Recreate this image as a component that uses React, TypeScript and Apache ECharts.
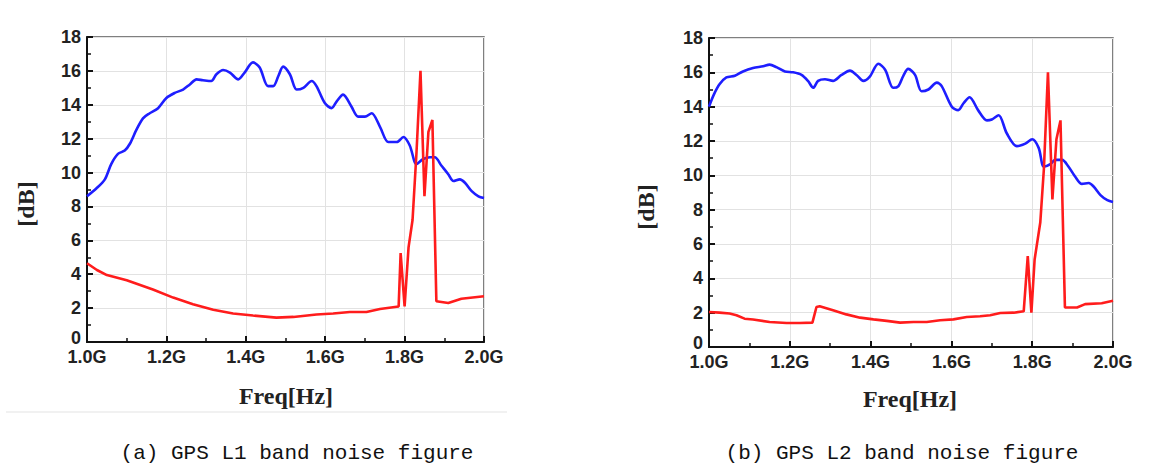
import React, { useEffect, useRef } from "react";
import * as echarts from "echarts";

// GPS L1 band
const l1NoiseFreq = [1.0, 1.024, 1.045, 1.061, 1.078, 1.095, 1.108, 1.124, 1.141, 1.158, 1.179, 1.2, 1.221, 1.242, 1.259, 1.276, 1.292, 1.313, 1.326, 1.343, 1.36, 1.381, 1.397, 1.418, 1.435, 1.456, 1.469, 1.482, 1.494, 1.511, 1.528, 1.545, 1.566, 1.578, 1.599, 1.616, 1.629, 1.645, 1.666, 1.683, 1.7, 1.717, 1.738, 1.759, 1.78, 1.797, 1.813, 1.83, 1.847, 1.864, 1.876, 1.893, 1.91, 1.923, 1.939, 1.952, 1.969, 1.986, 2.0];
const l1NoiseDb = [8.6, 9.07, 9.6, 10.5, 11.1, 11.3, 11.7, 12.5, 13.2, 13.5, 13.8, 14.4, 14.7, 14.9, 15.2, 15.5, 15.45, 15.4, 15.8, 16.05, 15.9, 15.5, 15.9, 16.5, 16.2, 15.1, 15.1, 15.7, 16.25, 15.8, 14.9, 15.0, 15.4, 15.1, 14.1, 13.8, 14.2, 14.6, 13.9, 13.3, 13.3, 13.5, 12.7, 11.8, 11.8, 12.1, 11.6, 10.5, 10.8, 10.9, 10.9, 10.4, 9.9, 9.5, 9.6, 9.4, 8.9, 8.6, 8.5];
const l1LowFreq = [1.0, 1.025, 1.05, 1.1, 1.166, 1.217, 1.267, 1.318, 1.368, 1.418, 1.477, 1.52, 1.578, 1.62, 1.662, 1.704, 1.738, 1.785, 1.79, 1.8, 1.81, 1.82, 1.83, 1.84, 1.85, 1.86, 1.87, 1.88, 1.91, 1.943, 2.0];
const l1LowDb = [4.65, 4.25, 3.95, 3.65, 3.1, 2.62, 2.23, 1.9, 1.68, 1.56, 1.44, 1.48, 1.62, 1.68, 1.77, 1.77, 1.95, 2.1, 5.25, 2.1, 5.6, 7.2, 11.2, 16.0, 8.6, 12.4, 13.1, 2.4, 2.3, 2.55, 2.7];

// GPS L2 band
const l2NoiseFreq = [1.0, 1.012, 1.026, 1.043, 1.064, 1.084, 1.109, 1.134, 1.15, 1.167, 1.188, 1.208, 1.229, 1.245, 1.258, 1.27, 1.287, 1.307, 1.328, 1.349, 1.365, 1.382, 1.398, 1.419, 1.436, 1.456, 1.469, 1.481, 1.493, 1.51, 1.526, 1.543, 1.564, 1.576, 1.601, 1.617, 1.63, 1.645, 1.666, 1.688, 1.7, 1.717, 1.737, 1.762, 1.783, 1.8, 1.816, 1.829, 1.845, 1.857, 1.874, 1.89, 1.907, 1.923, 1.94, 1.952, 1.969, 1.986, 2.0];
const l2NoiseDb = [14.0, 14.7, 15.3, 15.7, 15.8, 16.05, 16.25, 16.35, 16.45, 16.3, 16.05, 16.0, 15.85, 15.5, 15.1, 15.5, 15.6, 15.5, 15.85, 16.1, 15.85, 15.5, 15.75, 16.5, 16.15, 15.1, 15.2, 15.8, 16.2, 15.85, 14.9, 15.0, 15.4, 15.2, 14.0, 13.8, 14.2, 14.55, 13.8, 13.2, 13.25, 13.5, 12.45, 11.7, 11.85, 12.1, 11.6, 10.5, 10.65, 10.9, 10.9, 10.5, 9.9, 9.5, 9.55, 9.35, 8.85, 8.55, 8.45];
const l2LowFreq = [1.0, 1.026, 1.051, 1.068, 1.088, 1.109, 1.15, 1.192, 1.225, 1.256, 1.266, 1.274, 1.307, 1.34, 1.374, 1.407, 1.44, 1.473, 1.506, 1.539, 1.572, 1.605, 1.638, 1.671, 1.696, 1.721, 1.754, 1.779, 1.789, 1.798, 1.806, 1.82, 1.829, 1.839, 1.85, 1.86, 1.87, 1.881, 1.911, 1.931, 1.972, 2.0];
const l2LowDb = [2.04, 2.0, 1.95, 1.85, 1.65, 1.6, 1.46, 1.4, 1.4, 1.42, 2.33, 2.37, 2.14, 1.9, 1.71, 1.61, 1.52, 1.42, 1.46, 1.46, 1.56, 1.61, 1.75, 1.79, 1.85, 1.98, 2.0, 2.08, 5.3, 2.0, 5.1, 7.25, 10.4, 16.0, 8.6, 12.1, 13.2, 2.3, 2.3, 2.5, 2.55, 2.7];

const captions = ["(a) GPS L1 band noise figure", "(b) GPS L2 band noise figure"];
const xAxisName = "Freq[Hz]";
const yAxisName = "[dB]";

const zip = (xs: number[], ys: number[]) => xs.map((x, i) => [x, ys[i]]);

export default function App() {
  const ref = useRef<HTMLDivElement>(null);
  useEffect(() => {
    if (!ref.current) return;
    const chart = echarts.init(ref.current, undefined, { renderer: "svg" });
    const grids = [
      { left: 87, top: 37, width: 397, height: 305 },
      { left: 709, top: 38, width: 404, height: 309 },
    ];
    const labelFont = { fontFamily: "Liberation Sans, Arial, sans-serif", fontWeight: "bold" as const, fontSize: 18, color: "#222", lineHeight: 13 };
    const nameStyle = { fontFamily: "Liberation Serif, Times New Roman, serif", fontWeight: "bold" as const, fontSize: 24, fill: "#222", align: "center" as const, verticalAlign: "middle" as const };
    const xAxes = grids.map((_, i) => ({
      type: "value",
      gridIndex: i,
      min: 1,
      max: 2,
      interval: 0.2,
      axisLine: { show: true, lineStyle: { color: "#111", width: 2 } },
      axisTick: { show: true, inside: true, length: 6, lineStyle: { color: "#111", width: 2 } },
      minorTick: { show: true, splitNumber: 2, length: 4, lineStyle: { color: "#111", width: 1.5 } },
      axisLabel: { ...labelFont, margin: 8, formatter: (v: number) => (Math.round(v * 10) / 10).toFixed(1) + "G" },
      splitLine: { show: true, lineStyle: { color: "#e2e2e2", width: 1 } },
    }));
    const yAxes = grids.map((_, i) => ({
      type: "value",
      gridIndex: i,
      min: 0,
      max: 18,
      interval: 2,
      axisLine: { show: true, lineStyle: { color: "#111", width: 2 } },
      axisTick: { show: true, inside: true, length: 6, lineStyle: { color: "#111", width: 2 } },
      minorTick: { show: true, splitNumber: 2, length: 4, lineStyle: { color: "#111", width: 1.5 } },
      axisLabel: {
        ...labelFont,
        margin: 6,
        formatter: (v: number) => (v === 0 ? "{z|0}" : String(v)),
        rich: { z: { ...labelFont, padding: [0, 0, 8, 0] } },
      },
      splitLine: { show: true, lineStyle: { color: "#e2e2e2", width: 1 } },
    }));
    const blue = "#1e1eff";
    const red = "#ff1c1c";
    const mk = (i: number, data: number[][], color: string, smooth: boolean) => ({
      type: "line",
      xAxisIndex: i,
      yAxisIndex: i,
      data,
      smooth: smooth ? 0.3 : false,
      showSymbol: false,
      symbol: "none",
      lineStyle: { color, width: 2.6 },
      z: color === red ? 3 : 2,
    });
    const capStyle = { fontFamily: "Liberation Mono, monospace", fontSize: 21, fill: "#111", align: "center" as const, verticalAlign: "middle" as const };
    chart.setOption({
      animation: false,
      backgroundColor: "#ffffff",
      grid: grids.map((g) => ({ ...g, show: true, borderColor: "#555", borderWidth: 1.5, backgroundColor: "transparent" })),
      xAxis: xAxes,
      yAxis: yAxes,
      series: [
        mk(0, zip(l1NoiseFreq, l1NoiseDb), blue, true),
        mk(0, zip(l1LowFreq, l1LowDb), red, false),
        mk(1, zip(l2NoiseFreq, l2NoiseDb), blue, true),
        mk(1, zip(l2LowFreq, l2LowDb), red, false),
      ],
      graphic: [
        { type: "line", shape: { x1: 6, y1: 412, x2: 507, y2: 412 }, style: { stroke: "#ececec", lineWidth: 1.5 } },
        { type: "text", x: 286, y: 396, style: { ...nameStyle, text: xAxisName } },
        { type: "text", x: 910, y: 399, style: { ...nameStyle, text: xAxisName } },
        { type: "text", x: 26, y: 204, rotation: Math.PI / 2, style: { ...nameStyle, text: yAxisName } },
        { type: "text", x: 646, y: 207, rotation: Math.PI / 2, style: { ...nameStyle, text: yAxisName } },
        { type: "text", x: 297, y: 453, style: { ...capStyle, text: captions[0] } },
        { type: "text", x: 902, y: 453, style: { ...capStyle, text: captions[1] } },
      ],
    });
    return () => chart.dispose();
  }, []);
  return <div ref={ref} style={{ position: "fixed", left: 0, top: 0, width: 1167, height: 472 }} />;
}
